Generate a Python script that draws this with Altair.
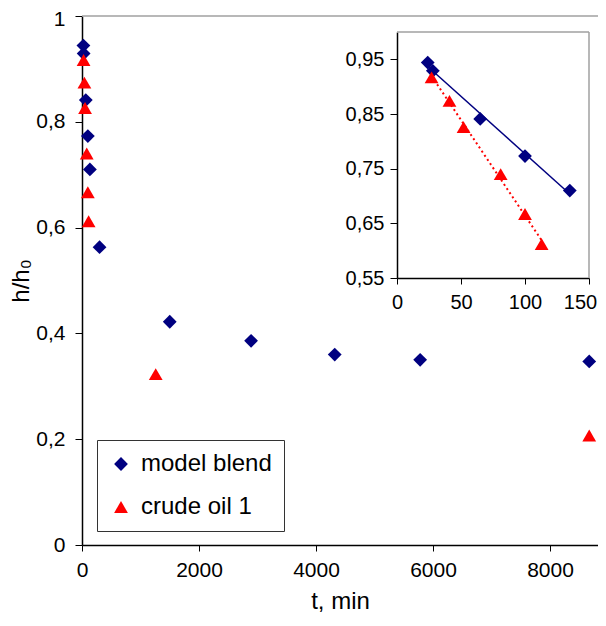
import altair as alt
import pandas as pd

# ---- data ----
blend_t = [24, 28, 65, 100, 135, 300, 1500, 2890, 4320, 5780, 8670]
blend_h = [0.944, 0.929, 0.841, 0.773, 0.710, 0.563, 0.422, 0.386, 0.360, 0.350, 0.347]
crude_t = [27, 41, 52, 81, 100, 113, 1260, 8670]
crude_h = [0.917, 0.874, 0.826, 0.740, 0.667, 0.612, 0.323, 0.207]

series_names = ["model blend", "crude oil 1"]
series_colors = ["#000080", "#ff0000"]
series_shapes = ["diamond", "triangle-up"]

main_x_domain = [0, 8820]
main_x_ticks = [0, 2000, 4000, 6000, 8000]
main_y_ticks = [0, 0.2, 0.4, 0.6, 0.8, 1]
inset_x_ticks = [0, 50, 100, 150]
inset_y_ticks = [0.55, 0.65, 0.75, 0.85, 0.95]
inset_x_domain = [0, 150]
inset_y_domain = [0.55, 1.0]

df = pd.DataFrame({"t": blend_t, "h": blend_h, "series": series_names[0]})
df = pd.concat(
    [df, pd.DataFrame({"t": crude_t, "h": crude_h, "series": series_names[1]})],
    ignore_index=True,
)
df_in = df[df["t"] <= inset_x_domain[1]].reset_index(drop=True)

# inset frame (top and right edges) in data units of the inset
frame_df = pd.DataFrame({
    "t": [inset_x_domain[0], inset_x_domain[1]],
    "t2": [inset_x_domain[1], inset_x_domain[1]],
    "h": [inset_y_domain[1], inset_y_domain[0]],
    "h2": [inset_y_domain[1], inset_y_domain[1]],
})

FONT = "Liberation Sans"
W, H = 516, 529
PAD_L, PAD_T, PAD_B, PAD_R = 74, 8, 73, 0
IN_L, IN_R, IN_T, IN_B = 315, 507, 16, 262

color = alt.Color("series:N", sort=series_names,
                  scale=alt.Scale(domain=series_names, range=series_colors),
                  legend=alt.Legend(title=None, orient="none", legendX=15, legendY=424,
                                    strokeColor="#333333", fillColor="white",
                                    padding=12, labelFontSize=24, labelFont=FONT,
                                    symbolSize=190, rowPadding=19, labelOffset=8,
                                    symbolStrokeWidth=0, labelColor="black"))
shape = alt.Shape("series:N", sort=series_names,
                  scale=alt.Scale(domain=series_names, range=series_shapes),
                  legend=alt.Legend(title=None, orient="none", legendX=15, legendY=424))

lab = "replace(format(datum.value, '.2~f'), '.', ',')"

mx = alt.X("t:Q", scale=alt.Scale(domain=main_x_domain, nice=False),
           axis=alt.Axis(values=main_x_ticks, format="d", title="t, min", labelFlush=False,
                         titleFontSize=24, titleFontWeight="normal", titlePadding=9,
                         labelFontSize=21, labelPadding=8, tickSize=6, grid=False,
                         domainColor="black", tickColor="black", domainWidth=1.5,
                         labelColor="black", titleColor="black"))
my = alt.Y("h:Q", scale=alt.Scale(domain=[0, 1], nice=False),
           axis=alt.Axis(values=main_y_ticks, labelExpr=lab, title="h/h₀",
                         titleFontSize=24, titleFontWeight="normal", titlePadding=2,
                         labelFontSize=21, labelPadding=10, tickSize=7, grid=False,
                         labelOffset={"condition": {"test": "datum.value === 1", "value": 3},
                                      "value": 0},
                         domainColor="black", tickColor="black", domainWidth=1.5,
                         labelColor="black", titleColor="black"))

main_pts = alt.Chart(df).mark_point(filled=True, opacity=1, size=190).encode(
    x=mx, y=my, color=color, shape=shape)
top_line = alt.Chart(pd.DataFrame({"v": [1]})).mark_rule(
    color="#a0a0a0", strokeWidth=1.5).encode(y=alt.datum(1))
main = alt.layer(top_line, main_pts)

ix_scale = alt.Scale(domain=inset_x_domain, range=[IN_L, IN_R], nice=False)
iy_scale = alt.Scale(domain=inset_y_domain, range=[IN_B, IN_T], nice=False)
ix = alt.X("t:Q", scale=ix_scale,
           axis=alt.Axis(orient="bottom", offset=-(H - IN_B), values=inset_x_ticks, format="d",
                         title=None, labelFontSize=20, labelPadding=8, tickSize=6, grid=False,
                         labelFlush=False,
                         labelOffset={"condition": {"test": "datum.value === 150", "value": -9},
                                      "value": 0},
                         domainColor="black", tickColor="black", domainWidth=1.5,
                         labelColor="black"))
iy = alt.Y("h:Q", scale=iy_scale,
           axis=alt.Axis(orient="left", offset=-IN_L, values=inset_y_ticks, labelExpr=lab,
                         title=None, labelFontSize=20, labelPadding=6, tickSize=7, grid=False,
                         domainColor="black", tickColor="black", domainWidth=1.5,
                         labelColor="black"))

frame = alt.Chart(frame_df).mark_rule(color="#a0a0a0", strokeWidth=1.5).encode(
    x=ix, x2="t2:Q", y=iy, y2="h2:Q")

reg_blend = alt.Chart(df_in).transform_filter(
    alt.datum.series == series_names[0]).transform_regression("t", "h").mark_line(
    color=series_colors[0], strokeWidth=1.5).encode(x=ix, y=iy)
reg_crude = alt.Chart(df_in).transform_filter(
    alt.datum.series == series_names[1]).transform_regression("t", "h").mark_line(
    color=series_colors[1], strokeWidth=2, strokeDash=[2, 3]).encode(x=ix, y=iy)
inset_pts = alt.Chart(df_in).mark_point(filled=True, opacity=1, size=190).encode(
    x=ix, y=iy, color=color, shape=shape)

inset = alt.layer(frame, reg_blend, reg_crude, inset_pts)

chart = alt.layer(main, inset).resolve_scale(
    x="independent", y="independent").resolve_axis(
    x="independent", y="independent").properties(
    width=W, height=H,
    autosize=alt.AutoSizeParams(type="none"),
    padding={"left": PAD_L, "top": PAD_T, "right": PAD_R, "bottom": PAD_B},
).configure(font=FONT).configure_view(stroke=None).configure_axis(grid=False)

chart.save("out.html", embed_options={"renderer": "svg", "actions": False})
